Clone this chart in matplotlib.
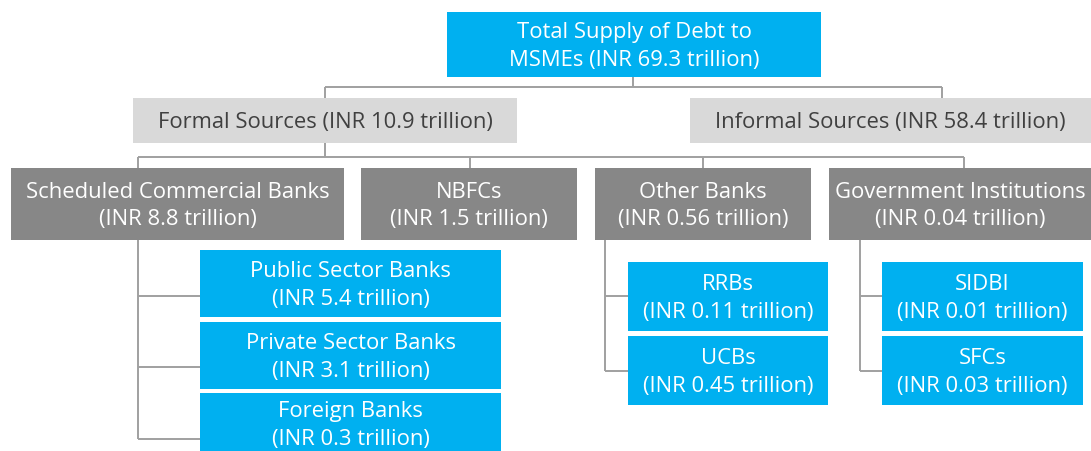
import matplotlib
matplotlib.use("Agg")
import matplotlib.pyplot as plt
from matplotlib.patches import Rectangle

# data
names = ["Total Supply of Debt to\nMSMEs", "Formal Sources", "Informal Sources",
         "Scheduled Commercial Banks", "NBFCs", "Other Banks", "Government Institutions",
         "Public Sector Banks", "Private Sector Banks", "Foreign Banks",
         "RRBs", "UCBs", "SIDBI", "SFCs"]
values = ["69.3", "10.9", "58.4", "8.8", "1.5", "0.56", "0.04",
          "5.4", "3.1", "0.3", "0.11", "0.45", "0.01", "0.03"]

BLUE = "#00b0f0"
LIGHT = "#d9d9d9"
DARK = "#878787"
LINE = "#a0a0a0"

# layout: x0, y0, x1, y1 (pixels), fill, text colour
boxes = [
    (447, 13, 821, 78, BLUE, "white"),
    (133, 99, 517, 144, LIGHT, "#404040"),
    (690, 99, 1091, 144, LIGHT, "#404040"),
    (11, 169, 344, 241, DARK, "white"),
    (361, 169, 577, 241, DARK, "white"),
    (595, 169, 811, 241, DARK, "white"),
    (829, 169, 1091, 241, DARK, "white"),
    (200, 251, 501, 318, BLUE, "white"),
    (200, 323, 501, 390, BLUE, "white"),
    (200, 394, 501, 455, BLUE, "white"),
    (628, 263, 828, 332, BLUE, "white"),
    (628, 337, 828, 406, BLUE, "white"),
    (882, 263, 1083, 332, BLUE, "white"),
    (882, 337, 1083, 406, BLUE, "white"),
]

fig = plt.figure(figsize=(10.91, 4.52), dpi=100)
ax = fig.add_axes([0, 0, 1, 1])
ax.set_xlim(0, 1091)
ax.set_ylim(452, 0)
ax.axis("off")

def line(xs, ys):
    ax.plot(xs, ys, color=LINE, lw=1.4, solid_capstyle="butt", zorder=1)

# connectors
line([633, 633], [78, 88])
line([325, 942], [88, 88])
line([325, 325], [88, 99])
line([942, 942], [88, 99])
line([325, 325], [144, 158])
line([138, 964], [158, 158])
for x in [138, 470, 703, 964]:
    line([x, x], [158, 169])
line([138, 138], [241, 440])
for y in [297, 368, 440]:
    line([138, 200], [y, y])
for x0, x1 in [(605, 628), (860, 882)]:
    line([x0, x0], [241, 372])
    for y in [297, 372]:
        line([x0, x1], [y, y])

font = ["Open Sans", "DejaVu Sans"]
for i, (x0, y0, x1, y1, fc, tc) in enumerate(boxes):
    ax.add_patch(Rectangle((x0, y0), x1 - x0, y1 - y0, facecolor=fc,
                           edgecolor="none", zorder=2))
    if i < 3:
        label = names[i] + " (INR " + values[i] + " trillion)"
    else:
        label = names[i] + "\n(INR " + values[i] + " trillion)"
    ax.text((x0 + x1) / 2, (y0 + y1) / 2 + 1, label, ha="center", va="center",
            color=tc, fontsize=15.8, family=font, linespacing=1.4, zorder=3)

fig.savefig("out.png", dpi=100)
